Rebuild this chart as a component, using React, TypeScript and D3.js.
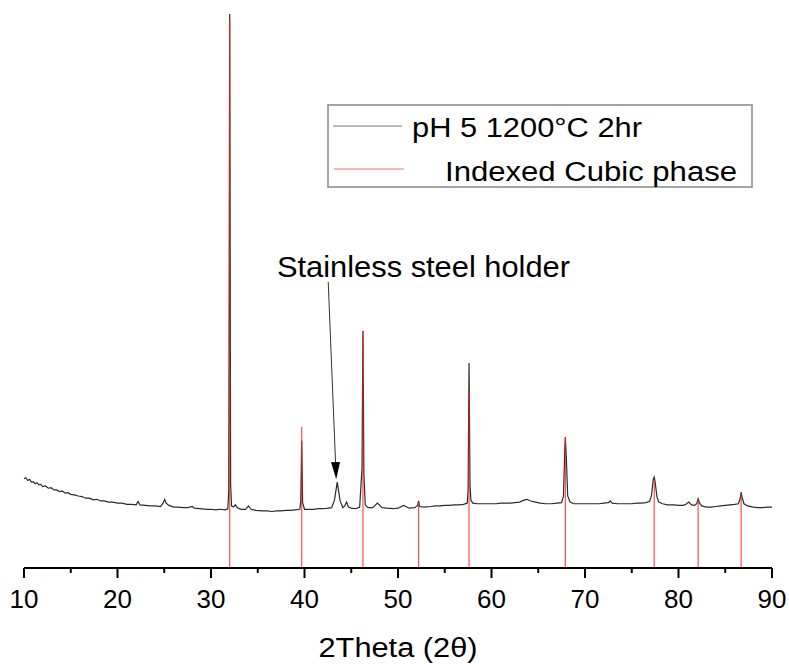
import React from "react";
import * as d3 from "d3";

// measured XRD pattern (2theta, counts)
const patternTheta = [
  10.0, 10.2, 10.4, 10.6, 10.8, 11.0, 11.2, 11.4, 11.6, 11.8, 12.0, 12.3, 12.6, 12.9, 13.2, 13.5, 13.8, 14.1, 14.4, 14.7,
  15.0, 15.4, 15.8, 16.2, 16.6, 17.0, 17.4, 17.8, 18.2, 18.6, 19.0, 19.5, 20.0, 20.5, 21.0, 21.5, 22.0, 22.2, 22.4, 23.0,
  23.5, 24.0, 24.6, 24.9, 25.05, 25.2, 25.5, 26.0, 26.5, 27.0, 27.5, 28.0, 28.2, 28.8, 29.5, 30.0, 30.5, 31.0, 31.5, 31.8,
  31.9, 32.0, 32.1, 32.2, 32.4, 32.6, 32.8, 33.2, 33.7, 34.0, 34.3, 34.8, 35.5, 36.0, 36.5, 37.0, 37.5, 38.0, 38.5, 39.0,
  39.5, 39.6, 39.7, 39.8, 40.0, 40.5, 41.0, 41.5, 42.0, 42.5, 42.9, 43.2, 43.5, 43.8, 44.1, 44.3, 44.5, 44.7, 45.0, 45.5,
  45.9, 46.15, 46.25, 46.35, 46.5, 46.8, 47.3, 47.8, 48.3, 48.8, 49.5, 50.0, 50.6, 51.2, 51.8, 52.1, 52.2, 52.3, 52.8, 53.5,
  54.0, 54.5, 55.0, 55.5, 56.0, 56.5, 57.0, 57.4, 57.5, 57.6, 57.7, 57.8, 58.0, 58.5, 59.0, 59.5, 60.0, 60.5, 61.0, 61.5,
  62.0, 62.5, 63.0, 63.4, 63.8, 64.2, 64.7, 65.2, 65.8, 66.4, 67.0, 67.5, 67.7, 67.85, 67.9, 68.0, 68.15, 68.4, 68.8, 69.5,
  70.0, 70.5, 71.0, 71.5, 72.0, 72.5, 72.7, 72.9, 73.5, 74.0, 74.5, 75.0, 75.5, 76.0, 76.5, 76.9, 77.1, 77.3, 77.4, 77.5,
  77.7, 77.9, 78.3, 78.8, 79.5, 80.0, 80.5, 80.8, 81.1, 81.4, 81.7, 81.95, 82.1, 82.25, 82.5, 83.0, 83.5, 84.0, 84.5, 85.0,
  85.5, 86.0, 86.4, 86.6, 86.7, 86.8, 87.0, 87.4, 88.0, 88.5, 89.0, 89.5, 90.0,
];
const patternCounts = [
  161, 163, 158, 160, 155, 156, 152, 154, 150, 151, 147, 148, 144, 145, 141, 141, 138, 139, 135, 136,
  133, 132, 130, 129, 126, 126, 123, 124, 121, 121, 119, 119, 117, 117, 115, 115, 114, 120, 114, 113,
  112, 112, 111, 118, 124, 117, 113, 110, 110, 109, 109, 111, 108, 107, 106, 106, 105, 106, 105, 107,
  140, 1000, 150, 112, 110, 114, 109, 106, 106, 112, 106, 104, 103, 103, 102, 103, 103, 104, 104, 105,
  106, 120, 230, 118, 106, 106, 106, 107, 107, 108, 109, 122, 155, 122, 109, 112, 119, 110, 108, 107,
  110, 180, 428, 170, 114, 109, 109, 117, 109, 108, 107, 108, 113, 108, 109, 113, 121, 111, 110, 111,
  112, 112, 113, 113, 114, 114, 115, 117, 140, 370, 150, 122, 117, 116, 116, 116, 116, 116, 117, 117,
  117, 118, 119, 122, 124, 121, 119, 117, 116, 116, 117, 118, 130, 220, 236, 200, 130, 119, 116, 116,
  116, 116, 116, 116, 117, 118, 121, 117, 116, 116, 116, 116, 117, 117, 118, 120, 130, 160, 164, 155,
  128, 119, 116, 114, 114, 113, 113, 115, 119, 114, 113, 116, 125, 117, 112, 110, 110, 111, 112, 113,
  114, 115, 116, 125, 137, 128, 116, 112, 110, 109, 109, 110, 110,
];

// indexed cubic phase reflections
const indexedTheta = [32.0, 39.7, 46.25, 52.2, 57.6, 67.9, 77.4, 82.1, 86.7];
const indexedCounts = [989, 255, 428, 119, 318, 236, 159, 123, 135];

const xTicks = [10, 20, 30, 40, 50, 60, 70, 80, 90];
const xMinorTicks = [15, 25, 35, 45, 55, 65, 75, 85];

const seriesNames = ["pH 5 1200°C 2hr", "Indexed Cubic phase"];
const annotationText = "Stainless steel holder";
const annotationTheta = 43.5;

const width = 789, height = 664;
const font = "'Liberation Sans', Arial, sans-serif";

export default function App() {
  const x = d3.scaleLinear().domain([10, 90]).range([24, 772]);
  const y = d3.scaleLinear().domain([0, 1000]).range([568, 14]);
  const axisY = y(0);

  const pts: [number, number][] = patternTheta.map((t, i) => [t, patternCounts[i]]);
  const line = d3.line<[number, number]>()
    .x(d => x(d[0]))
    .y(d => y(d[1]));

  // arrow pointing at the holder peak
  const peakIdx = patternTheta.indexOf(annotationTheta);
  const tipX = x(annotationTheta) - 1;
  const tipY = y(patternCounts[peakIdx]) - 3;
  const startX = x(annotationTheta) - 9;
  const startY = 282;
  const ang = Math.atan2(tipY - startY, tipX - startX);
  const headLen = 17, headW = 4.5;
  const bx = tipX - headLen * Math.cos(ang), by = tipY - headLen * Math.sin(ang);
  const head = [
    [tipX, tipY],
    [bx + headW * Math.sin(ang), by - headW * Math.cos(ang)],
    [bx - headW * Math.sin(ang), by + headW * Math.cos(ang)],
  ].map(p => p.join(",")).join(" ");

  return (
    <svg width={width} height={height} style={{ position: "absolute", left: 0, top: 0, background: "#fff" }}>
      {/* measured pattern */}
      <path d={line(pts) || ""} fill="none" stroke="#2a2a2a" strokeWidth={1.2} />

      {/* indexed reflections */}
      {indexedTheta.map((t, i) => (
        <line key={t} x1={x(t)} x2={x(t)} y1={axisY} y2={y(indexedCounts[i])}
          stroke="#ff2020" strokeOpacity={0.8} strokeWidth={1.2} />
      ))}

      {/* x axis */}
      <line x1={x(10)} x2={x(90)} y1={axisY} y2={axisY} stroke="#000" strokeWidth={2} />
      {xTicks.map(t => (
        <g key={t}>
          <line x1={x(t)} x2={x(t)} y1={axisY} y2={axisY + 10} stroke="#000" strokeWidth={2} />
          <text x={x(t)} y={608} textAnchor="middle" fontFamily={font} fontSize={26} fill="#000">{t}</text>
        </g>
      ))}
      {xMinorTicks.map(t => (
        <line key={t} x1={x(t)} x2={x(t)} y1={axisY} y2={axisY + 5} stroke="#000" strokeWidth={2} />
      ))}
      <text x={(x(10) + x(90)) / 2} y={657} textAnchor="middle" fontFamily={font} fontSize={27}
        textLength={159} lengthAdjust="spacingAndGlyphs" fill="#000">2Theta (2θ)</text>

      {/* annotation */}
      <text x={277} y={277} fontFamily={font} fontSize={30} textLength={293} lengthAdjust="spacingAndGlyphs" fill="#000">{annotationText}</text>
      <line x1={startX} y1={startY} x2={bx} y2={by} stroke="#333" strokeWidth={1} />
      <polygon points={head} fill="#000" />

      {/* legend */}
      <rect x={328} y={105} width={424} height={82} fill="#fff" stroke="#888" strokeWidth={1.5} />
      <line x1={333} x2={402} y1={126} y2={126} stroke="#777" strokeWidth={1.2} />
      <text x={412} y={137} fontFamily={font} fontSize={27} textLength={230} lengthAdjust="spacingAndGlyphs" fill="#000">{seriesNames[0]}</text>
      <line x1={334} x2={404} y1={169} y2={169} stroke="#ff9a9a" strokeWidth={1.5} />
      <text x={445} y={181} fontFamily={font} fontSize={27} textLength={292} lengthAdjust="spacingAndGlyphs" fill="#000">{seriesNames[1]}</text>
    </svg>
  );
}
